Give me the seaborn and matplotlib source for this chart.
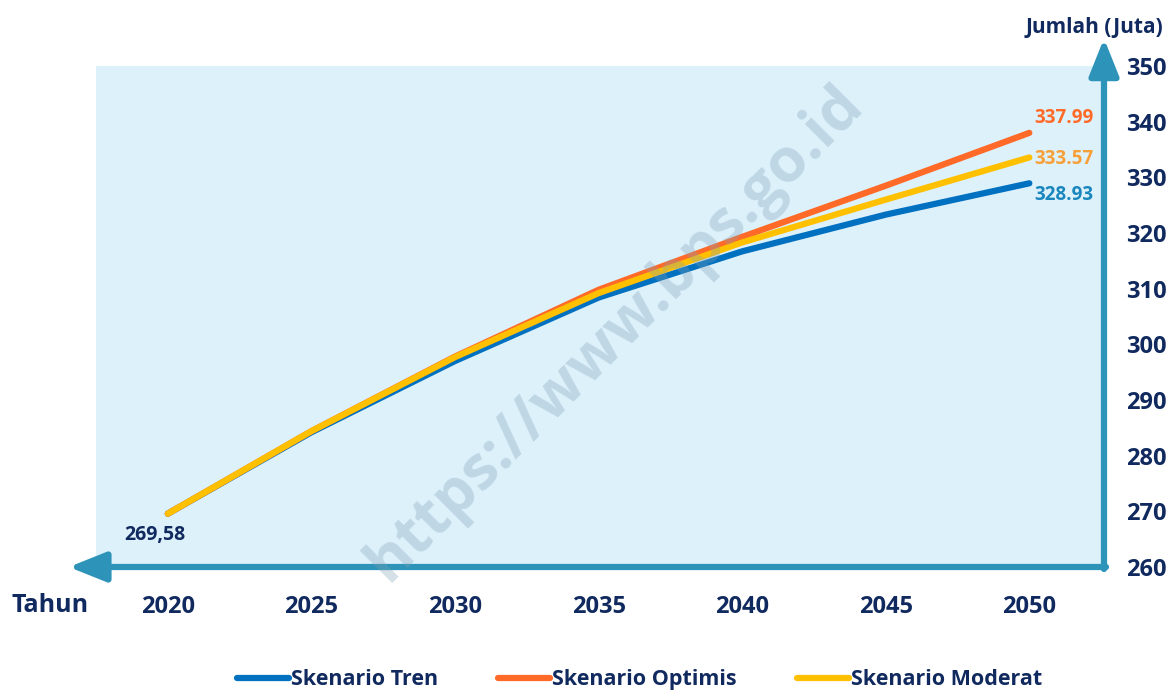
import pandas as pd
import seaborn as sns
import matplotlib.pyplot as plt

# Proyeksi jumlah penduduk (juta)
tahun = [2020, 2025, 2030, 2035, 2040, 2045, 2050]
tren = [269.58, 284.2, 297.0, 308.4, 316.7, 323.3, 328.93]
optimis = [269.58, 284.4, 297.8, 309.8, 319.3, 328.5, 337.99]
moderat = [269.58, 284.4, 297.7, 309.2, 318.3, 326.0, 333.57]
skenario = ['Skenario Tren', 'Skenario Optimis', 'Skenario Moderat']
warna = ['#0070C0', '#FF6A28', '#FFC000']
warna_label = ['#1A86BE', '#FF6A28', '#F7A03A']
y_ticks = list(range(260, 351, 10))

navy = '#10295E'
axis_col = '#2E93B9'

df = pd.DataFrame({
    'Tahun': tahun * 3,
    'Jumlah': tren + optimis + moderat,
    'Skenario': [s for s in skenario for _ in tahun],
})

sns.set_style('white')
plt.rcParams['font.family'] = ['Open Sans', 'DejaVu Sans']
plt.rcParams['font.weight'] = 'bold'

fig = plt.figure(figsize=(11.76, 6.91), dpi=100)
ax = fig.add_axes([96 / 1176, 1 - 567 / 691, 1008 / 1176, 501 / 691])
ax.set_facecolor('#DDF1FB')

sns.lineplot(data=df, x='Tahun', y='Jumlah', hue='Skenario', hue_order=skenario,
             palette=warna, linewidth=4.5, ax=ax, legend=True)
for ln in ax.lines:
    ln.set_solid_capstyle('round')
    ln.set_solid_joinstyle('round')

ax.set_xlim(2017.5, 2052.6)
ax.set_ylim(260, 350)
for s in ax.spines.values():
    s.set_visible(False)

ax.set_xticks(tahun)
ax.set_xticklabels([str(t) for t in tahun], fontsize=17, fontweight='bold', color=navy)
ax.yaxis.tick_right()
ax.set_yticks(y_ticks)
ax.set_yticklabels([str(v) for v in y_ticks], fontsize=17, fontweight='bold', color=navy)
ax.tick_params(axis='x', length=0, pad=20)
ax.tick_params(axis='y', length=0, pad=16)
ax.set_xlabel('')
ax.set_ylabel('')

# panah sumbu
ax.annotate('', xy=(-0.027, 0), xytext=(1.002, 0), xycoords='axes fraction',
            arrowprops=dict(arrowstyle='-|>,head_length=1.5,head_width=0.6',
                            lw=4.5, color=axis_col, shrinkA=0, shrinkB=0,
                            mutation_scale=15), annotation_clip=False)
ax.annotate('', xy=(1.0, 1.055), xytext=(1.0, -0.004), xycoords='axes fraction',
            arrowprops=dict(arrowstyle='-|>,head_length=1.5,head_width=0.6',
                            lw=4.5, color=axis_col, shrinkA=0, shrinkB=0,
                            mutation_scale=15), annotation_clip=False)

# label nilai
ax.text(2019.55, 265.8, '269,58', fontsize=14, fontweight='bold', color=navy,
        ha='center', va='center')
ujung = [tren[-1], optimis[-1], moderat[-1]]
posisi_y = [326.8, 340.6, 333.3]
for v, py, c in zip(ujung, posisi_y, warna_label):
    ax.text(2051.2, py, f'{v:.2f}', fontsize=13.5, fontweight='bold', color=c,
            ha='center', va='center')

# watermark
ax.text(0.515, 0.465, 'https://www.bps.go.id', transform=ax.transAxes, rotation=45,
        fontsize=44, fontweight='bold', color='#7FA0B5', alpha=0.32,
        ha='center', va='center', zorder=5)

fig.text(50 / 1176, 1 - 606 / 691, 'Tahun', fontsize=18, fontweight='bold',
         color=navy, ha='center', va='center')
fig.text(1094 / 1176, 1 - 28 / 691, 'Jumlah (Juta)', fontsize=15, fontweight='bold',
         color=navy, ha='center', va='center')

handles, labels = ax.get_legend_handles_labels()
ax.get_legend().remove()
leg = fig.legend(handles, labels, loc='center', bbox_to_anchor=(0.544, 0.016),
                 ncol=3, frameon=False, handlelength=2.4, handletextpad=0.1,
                 columnspacing=2.8, prop={'size': 15.5, 'weight': 'bold'})
for t in leg.get_texts():
    t.set_color(navy)
for h in leg.legend_handles:
    h.set_linewidth(4.5)

plt.savefig('out.png', dpi=100)
plt.close()
